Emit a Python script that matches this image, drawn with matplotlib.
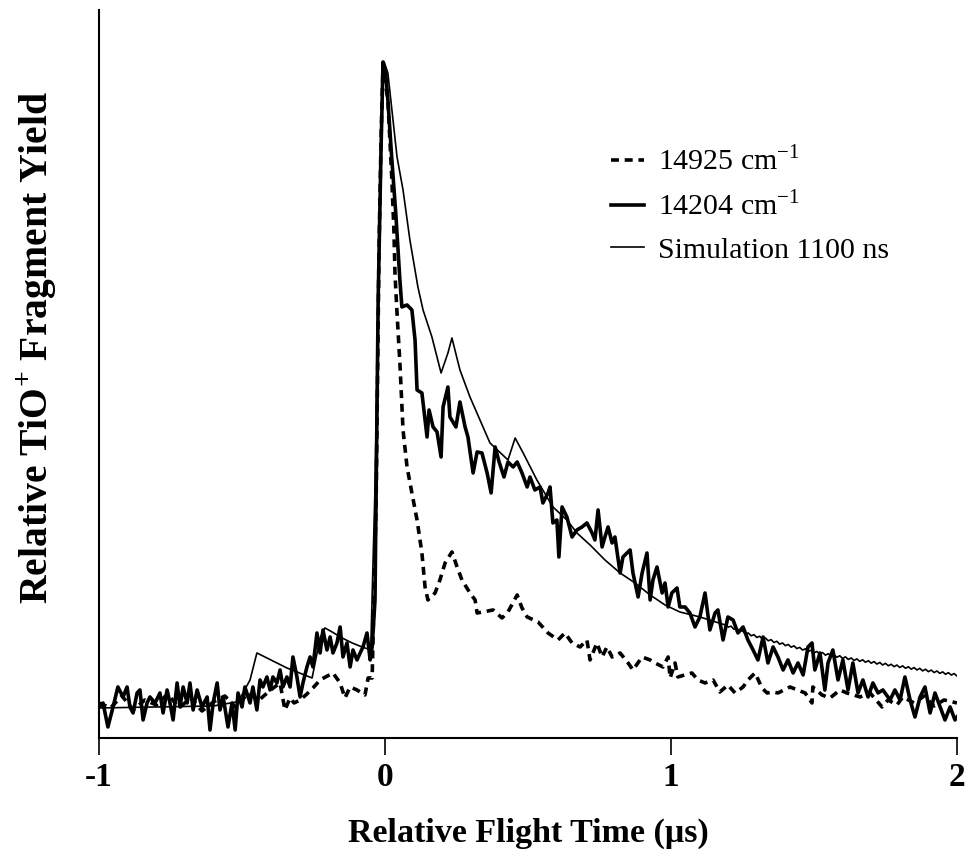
import matplotlib
matplotlib.use("Agg")
import matplotlib.pyplot as plt

plt.rcParams['mathtext.fontset'] = 'custom'
plt.rcParams['mathtext.rm'] = 'Liberation Serif'
plt.rcParams['mathtext.bf'] = 'Liberation Serif:bold'

# ---- data (x in microseconds, y in arbitrary relative-yield units) ----
x_14204 = [-1.000, -0.986, -0.969, -0.951, -0.934, -0.916, -0.902, -0.892, -0.881, -0.867,
           -0.857, -0.846, -0.832, -0.822, -0.804, -0.787, -0.776, -0.762, -0.752, -0.741,
           -0.727, -0.717, -0.706, -0.692, -0.682, -0.671, -0.657, -0.640, -0.622, -0.612,
           -0.601, -0.587, -0.577, -0.566, -0.549, -0.535, -0.524, -0.514, -0.500, -0.490,
           -0.483, -0.472, -0.462, -0.448, -0.437, -0.427, -0.413, -0.402, -0.392, -0.378,
           -0.367, -0.357, -0.343, -0.332, -0.322, -0.308, -0.297, -0.287, -0.273, -0.262,
           -0.252, -0.238, -0.227, -0.217, -0.203, -0.192, -0.182, -0.168, -0.157, -0.147,
           -0.133, -0.122, -0.112, -0.098, -0.087, -0.077, -0.063, -0.052, -0.045, -0.035,
           -0.024, -0.014, -0.007, 0.003, 0.010, 0.024, 0.038, 0.052, 0.059, 0.077,
           0.094, 0.105, 0.112, 0.129, 0.147, 0.154, 0.168, 0.182, 0.196, 0.203,
           0.220, 0.227, 0.248, 0.262, 0.280, 0.290, 0.308, 0.322, 0.339, 0.357,
           0.371, 0.385, 0.399, 0.416, 0.430, 0.448, 0.462, 0.479, 0.497, 0.507,
           0.524, 0.542, 0.552, 0.570, 0.577, 0.587, 0.601, 0.608, 0.619, 0.636,
           0.654, 0.671, 0.689, 0.706, 0.724, 0.734, 0.745, 0.759, 0.769, 0.780,
           0.794, 0.804, 0.822, 0.832, 0.857, 0.867, 0.885, 0.899, 0.916, 0.927,
           0.937, 0.951, 0.969, 0.979, 0.990, 1.003, 1.021, 1.031, 1.049, 1.066,
           1.084, 1.101, 1.119, 1.136, 1.154, 1.164, 1.182, 1.199, 1.217, 1.234,
           1.252, 1.269, 1.287, 1.304, 1.322, 1.339, 1.357, 1.374, 1.392, 1.409,
           1.427, 1.444, 1.462, 1.479, 1.493, 1.503, 1.521, 1.538, 1.549, 1.566,
           1.584, 1.601, 1.619, 1.636, 1.654, 1.671, 1.689, 1.706, 1.724, 1.741,
           1.766, 1.783, 1.801, 1.818, 1.836, 1.853, 1.871, 1.888, 1.906, 1.923,
           1.941, 1.958, 1.976, 1.993, 2.000]
y_14204 = [31, 35, 11, 31, 51, 41, 51, 31, 25, 45,
           48, 18, 35, 41, 35, 45, 25, 48, 35, 18,
           55, 31, 51, 35, 55, 28, 48, 31, 41, 8,
           35, 55, 28, 41, 11, 35, 8, 45, 31, 51,
           45, 35, 51, 28, 58, 51, 61, 48, 61, 55,
           68, 51, 61, 51, 81, 61, 41, 55, 71, 81,
           71, 105, 85, 108, 88, 101, 85, 95, 111, 81,
           95, 71, 88, 78, 85, 91, 105, 78, 91, 138,
           438, 588, 676, 663, 638, 578, 523, 458, 431, 433,
           428, 398, 348, 345, 301, 328, 311, 306, 281, 331,
           351, 321, 311, 336, 311, 301, 265, 286, 285, 265,
           245, 291, 276, 261, 276, 271, 276, 265, 251, 261,
           248, 251, 235, 245, 251, 215, 218, 181, 231, 221,
           201, 208, 211, 215, 205, 198, 228, 191, 201, 211,
           195, 201, 165, 181, 188, 165, 141, 165, 185, 138,
           158, 171, 145, 155, 131, 145, 150, 131, 131, 125,
           111, 121, 145, 108, 125, 128, 98, 121, 118, 105,
           111, 98, 88, 78, 101, 75, 91, 81, 68, 78,
           65, 75, 63, 91, 95, 68, 85, 48, 75, 88,
           58, 78, 48, 75, 45, 58, 41, 55, 45, 48,
           38, 48, 38, 61, 38, 21, 41, 51, 25, 45,
           31, 18, 31, 18, 21]

x_14925 = [-1.000, -0.960, -0.920, -0.880, -0.840, -0.800, -0.760, -0.720, -0.680, -0.640,
           -0.600, -0.560, -0.520, -0.480, -0.440, -0.400, -0.367, -0.350, -0.332, -0.318,
           -0.297, -0.273, -0.252, -0.227, -0.182, -0.157, -0.140, -0.122, -0.098, -0.070,
           -0.059, -0.045, -0.031, -0.021, -0.014, -0.007, 0.010, 0.017, 0.024, 0.031,
           0.035, 0.042, 0.052, 0.063, 0.077, 0.094, 0.112, 0.129, 0.140, 0.150,
           0.175, 0.192, 0.210, 0.234, 0.252, 0.269, 0.297, 0.315, 0.322, 0.343,
           0.378, 0.409, 0.430, 0.462, 0.479, 0.497, 0.535, 0.570, 0.605, 0.629,
           0.654, 0.682, 0.706, 0.717, 0.741, 0.759, 0.776, 0.794, 0.822, 0.850,
           0.867, 0.899, 0.927, 0.944, 0.972, 0.990, 0.997, 1.014, 1.024, 1.073,
           1.094, 1.119, 1.147, 1.171, 1.199, 1.224, 1.252, 1.269, 1.294, 1.318,
           1.336, 1.357, 1.374, 1.416, 1.469, 1.493, 1.496, 1.528, 1.556, 1.591,
           1.615, 1.661, 1.696, 1.738, 1.759, 1.790, 1.811, 1.850, 1.885, 1.920,
           1.955, 2.000]
y_14925 = [35, 30, 42, 28, 38, 33, 44, 30, 40, 27,
           36, 42, 30, 45, 38, 48, 55, 28, 40, 35,
           38, 44, 50, 58, 65, 55, 40, 51, 48, 43,
           60, 60, 238, 488, 598, 673, 638, 598, 558, 508,
           463, 425, 375, 308, 271, 245, 218, 185, 151, 138,
           145, 158, 175, 186, 171, 158, 145, 138, 125, 126,
           128, 120, 126, 143, 130, 121, 116, 105, 98, 105,
           95, 91, 98, 78, 95, 81, 91, 81, 85, 75,
           68, 81, 78, 75, 71, 81, 60, 75, 61, 65,
           58, 55, 58, 46, 53, 45, 51, 58, 65, 50,
           45, 46, 45, 51, 45, 35, 51, 43, 40, 48,
           45, 41, 45, 31, 38, 33, 41, 35, 42, 32,
           38, 35]

x_sim = [-1.000, -0.800, -0.600, -0.520, -0.510, -0.472, -0.448, -0.413, -0.378, -0.343,
         -0.308, -0.273, -0.255, -0.227, -0.210, -0.185, -0.150, -0.115, -0.080, -0.050,
         -0.035, -0.021, -0.010, -0.003, 0.010, 0.042, 0.063, 0.087, 0.115, 0.133,
         0.164, 0.196, 0.220, 0.234, 0.262, 0.297, 0.332, 0.367, 0.430, 0.455,
         0.483, 0.531, 0.587, 0.636, 0.671, 0.717, 0.769, 0.822, 0.874, 0.927,
         0.979, 1.031, 1.101, 1.15, 1.19, 1.20, 1.21, 1.22, 1.23, 1.24,
         1.25, 1.26, 1.27, 1.28, 1.29, 1.30, 1.31, 1.32, 1.33, 1.34,
         1.35, 1.36, 1.37, 1.38, 1.39, 1.40, 1.41, 1.42, 1.43, 1.44,
         1.45, 1.46, 1.47, 1.48, 1.49, 1.50, 1.51, 1.52, 1.53, 1.54,
         1.55, 1.56, 1.57, 1.58, 1.59, 1.60, 1.61, 1.62, 1.63, 1.64,
         1.65, 1.66, 1.67, 1.68, 1.69, 1.70, 1.71, 1.72, 1.73, 1.74,
         1.75, 1.76, 1.77, 1.78, 1.79, 1.80, 1.81, 1.82, 1.83, 1.84,
         1.85, 1.86, 1.87, 1.88, 1.89, 1.90, 1.91, 1.92, 1.93, 1.94,
         1.95, 1.96, 1.97, 1.98, 1.99, 2.00]
y_sim = [30, 31, 32, 36, 38, 58, 85, 80, 75, 70,
         66, 62, 60, 100, 110, 106, 100, 95, 91, 88,
         250, 480, 640, 676, 665, 581, 548, 498, 451, 428,
         401, 365, 385, 400, 368, 341, 318, 295, 278, 300,
         285, 258, 231, 218, 205, 193, 178, 165, 155, 143,
         133, 126, 121, 116.6, 113.0, 110.9, 111.8, 108.7, 109.6, 106.4,
         107.3, 104.1, 105.0, 102.2, 103.3, 100.5, 101.7, 98.8, 100.0, 97.2,
         98.3, 95.5, 96.7, 93.8, 95.0, 92.3, 93.5, 90.8, 92.1, 89.4,
         90.6, 87.9, 89.2, 86.5, 87.7, 85.0, 86.5, 83.9, 85.4, 82.8,
         84.3, 81.8, 83.2, 80.7, 82.2, 79.6, 81.1, 78.5, 80.0, 77.5,
         79.1, 76.6, 78.2, 75.7, 77.3, 74.8, 76.4, 73.9, 75.5, 73.0,
         74.6, 72.2, 73.7, 71.3, 72.9, 70.5, 72.1, 69.7, 71.2, 68.8,
         70.4, 68.0, 69.6, 67.1, 68.7, 66.3, 67.9, 65.4, 67.0, 64.6,
         66.1, 63.7, 65.3, 62.9, 64.4, 62.0]

labels = ["14925 cm$^{-1}$", "14204 cm$^{-1}$", "Simulation 1100 ns"]
xticks = [-1, 0, 1, 2]
xticklabels = ["-1", "0", "1", "2"]

fig = plt.figure(figsize=(9.69, 8.59), dpi=100)
ax = fig.add_axes([0.1022, 0.1409, 0.8854, 0.8475])

ax.plot(x_14925, y_14925, color='black', lw=2.6, ls=(0, (2.2, 1.6)),
        dash_capstyle='butt', label=labels[0])
ax.plot(x_14204, y_14204, color='black', lw=2.6, solid_joinstyle='round', label=labels[1])
ax.plot(x_sim, y_sim, color='black', lw=1.2, label=labels[2])

ax.set_xlim(-1, 2)
ax.set_ylim(0, 728)
ax.set_yticks([])
ax.set_xticks(xticks)
ax.set_xticklabels(xticklabels, fontfamily='Liberation Serif', fontweight='bold', fontsize=24)
ax.tick_params(axis='x', direction='out', length=12, width=1.2, pad=5)
for s in ['top', 'right']:
    ax.spines[s].set_visible(False)
for s in ['left', 'bottom']:
    ax.spines[s].set_linewidth(1.5)

ax.set_xlabel("Relative Flight Time (\u03bcs)", fontfamily='Liberation Serif',
              fontweight='bold', fontsize=24.5, labelpad=18)
ax.set_ylabel(r"Relative TiO$^{\mathbf{+}}$ Fragment Yield", fontfamily='Liberation Serif',
              fontweight='bold', fontsize=28.5)
ax.yaxis.set_label_coords(-0.047, 0.536)

leg = ax.legend(loc='upper left', bbox_to_anchor=(0.583, 0.83), frameon=False,
                prop={'family': 'Liberation Serif', 'size': 21.5},
                handlelength=1.1, handletextpad=0.47, labelspacing=0.5, borderaxespad=0)

fig.savefig("out.png", dpi=100)
